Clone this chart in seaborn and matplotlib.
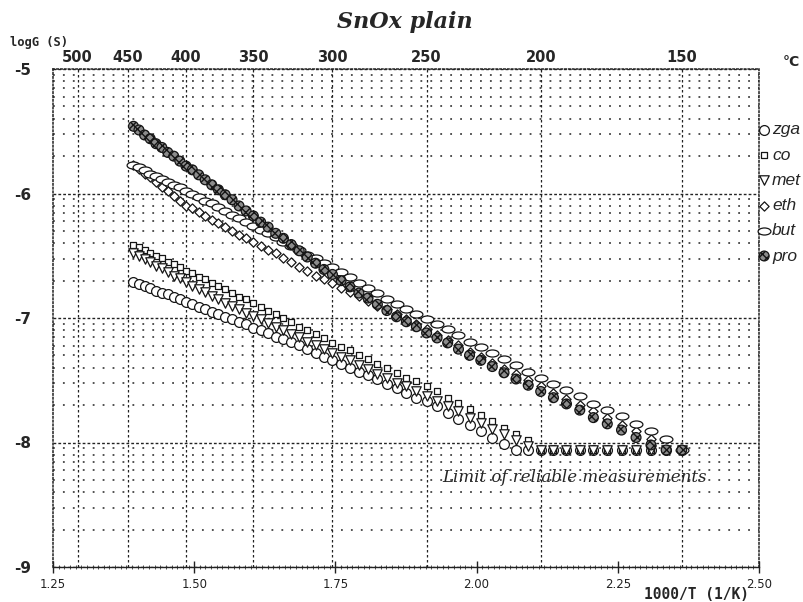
import numpy as np
import pandas as pd
import matplotlib
matplotlib.use("Agg")
import matplotlib.pyplot as plt
import seaborn as sns
from matplotlib.path import Path
from matplotlib.ticker import FixedLocator, MultipleLocator, FormatStrFormatter
from matplotlib.font_manager import FontProperties

# measurement temperatures in deg C (5 K steps)
temp_c = [445, 440, 435, 430, 425, 420, 415, 410, 405, 400,
          395, 390, 385, 380, 375, 370, 365, 360, 355, 350,
          345, 340, 335, 330, 325, 320, 315, 310, 305, 300,
          295, 290, 285, 280, 275, 270, 265, 260, 255, 250,
          245, 240, 235, 230, 225, 220, 215, 210, 205, 200,
          195, 190, 185, 180, 175, 170, 165, 160, 155, 150]

# logG (S)
zga = [-6.71, -6.73, -6.74, -6.76, -6.78, -6.80, -6.81, -6.83, -6.85, -6.87,
       -6.89, -6.91, -6.93, -6.95, -6.97, -6.99, -7.01, -7.03, -7.05, -7.08,
       -7.10, -7.12, -7.15, -7.17, -7.19, -7.22, -7.25, -7.28, -7.31, -7.34,
       -7.37, -7.40, -7.43, -7.46, -7.49, -7.53, -7.56, -7.60, -7.64, -7.67,
       -7.71, -7.76, -7.81, -7.86, -7.91, -7.96, -8.01, -8.06, -8.06, -8.06,
       -8.06, -8.06, -8.06, -8.06, -8.06, -8.06, -8.06, -8.06, -8.06, -8.06]
co = [-6.41, -6.43, -6.45, -6.48, -6.50, -6.52, -6.55, -6.57, -6.59, -6.62,
      -6.64, -6.67, -6.69, -6.72, -6.74, -6.77, -6.80, -6.83, -6.85, -6.88,
      -6.91, -6.94, -6.97, -7.00, -7.03, -7.07, -7.10, -7.13, -7.16, -7.20,
      -7.23, -7.26, -7.30, -7.33, -7.37, -7.40, -7.44, -7.48, -7.51, -7.55,
      -7.59, -7.64, -7.68, -7.73, -7.78, -7.83, -7.88, -7.93, -7.98, -8.06,
      -8.06, -8.06, -8.06, -8.06, -8.06, -8.06, -8.06, -8.06, -8.06, -8.06]
met = [-6.48, -6.50, -6.53, -6.55, -6.58, -6.60, -6.63, -6.66, -6.68, -6.71,
       -6.74, -6.77, -6.79, -6.82, -6.85, -6.88, -6.90, -6.93, -6.96, -6.98,
       -7.01, -7.04, -7.07, -7.10, -7.13, -7.15, -7.19, -7.22, -7.25, -7.28,
       -7.31, -7.34, -7.38, -7.41, -7.45, -7.48, -7.52, -7.55, -7.59, -7.63,
       -7.67, -7.71, -7.75, -7.80, -7.84, -7.89, -7.93, -7.98, -8.03, -8.06,
       -8.06, -8.06, -8.06, -8.06, -8.06, -8.06, -8.06, -8.06, -8.06, -8.06]
eth = [-5.77, -5.80, -5.84, -5.87, -5.91, -5.95, -5.98, -6.02, -6.06, -6.10,
       -6.12, -6.15, -6.18, -6.21, -6.24, -6.27, -6.30, -6.33, -6.36, -6.39,
       -6.42, -6.45, -6.48, -6.52, -6.55, -6.59, -6.62, -6.66, -6.69, -6.72,
       -6.76, -6.79, -6.82, -6.86, -6.90, -6.93, -6.97, -7.01, -7.05, -7.09,
       -7.14, -7.18, -7.22, -7.27, -7.31, -7.36, -7.41, -7.45, -7.50, -7.55,
       -7.60, -7.65, -7.70, -7.75, -7.80, -7.86, -7.91, -7.97, -8.06, -8.06]
but = [-5.77, -5.79, -5.81, -5.84, -5.86, -5.88, -5.91, -5.93, -5.95, -5.98,
       -6.00, -6.03, -6.06, -6.08, -6.11, -6.14, -6.17, -6.20, -6.23, -6.26,
       -6.29, -6.32, -6.35, -6.39, -6.42, -6.45, -6.49, -6.52, -6.56, -6.59,
       -6.63, -6.67, -6.72, -6.76, -6.80, -6.85, -6.89, -6.93, -6.97, -7.01,
       -7.05, -7.09, -7.14, -7.19, -7.23, -7.28, -7.33, -7.38, -7.43, -7.48,
       -7.53, -7.58, -7.63, -7.69, -7.74, -7.79, -7.85, -7.91, -7.97, -8.06]
pro = [-5.46, -5.49, -5.53, -5.56, -5.60, -5.63, -5.67, -5.70, -5.74, -5.78,
       -5.81, -5.85, -5.89, -5.93, -5.97, -6.01, -6.05, -6.10, -6.14, -6.18,
       -6.23, -6.27, -6.32, -6.36, -6.41, -6.46, -6.51, -6.56, -6.61, -6.65,
       -6.70, -6.75, -6.80, -6.84, -6.89, -6.94, -6.99, -7.03, -7.07, -7.12,
       -7.16, -7.20, -7.25, -7.30, -7.34, -7.39, -7.44, -7.49, -7.54, -7.59,
       -7.64, -7.69, -7.74, -7.80, -7.85, -7.90, -7.96, -8.02, -8.06, -8.06]

gas_names = ["zga", "co", "met", "eth", "but", "pro"]
top_temps = [500, 450, 400, 350, 300, 250, 200, 150]
x_ticks = [1.25, 1.50, 1.75, 2.00, 2.25, 2.50]
y_ticks = [-9, -8, -7, -6, -5]

sns.set_theme(style="white")
plt.rcParams["axes.unicode_minus"] = False
plt.rcParams["font.family"] = ["DejaVu Sans"]

inv_t = [1000.0 / (t + 273.15) for t in temp_c]
df = pd.DataFrame({
    "x": inv_t * len(gas_names),
    "logG": zga + co + met + eth + but + pro,
    "gas": [g for g in gas_names for _ in temp_c],
})

circ = Path.unit_circle()
oval = Path(circ.vertices * np.array([1.0, 0.55]), circ.codes)

styles = {
    "zga": dict(marker="o", s=50, color="white"),
    "co": dict(marker="s", s=22, color="white"),
    "met": dict(marker="v", s=46, color="white"),
    "eth": dict(marker="D", s=22, color="white"),
    "but": dict(marker=oval, s=85, color="white"),
    "pro": dict(marker="o", s=50, color="#8c8c8c"),
}

fig = plt.figure(figsize=(8.04, 6.02), dpi=100)
ax = fig.add_axes([53 / 804, 35 / 602, 706 / 804, 498 / 602])

for g in gas_names:
    sub = df[df["gas"] == g]
    sns.scatterplot(data=sub, x="x", y="logG", ax=ax, label=g,
                    edgecolor="#151515", linewidth=0.9, zorder=3, **styles[g])
    if g == "pro":
        ax.collections[-1].set_hatch("xxxx")

ax.set_xlim(1.25, 2.50)
ax.set_ylim(-9, -5)

# grid: temperature lines, decades and log minors
for t in top_temps:
    ax.axvline(1000.0 / (t + 273.15), color="#222222", lw=0.9, ls=(0, (2, 2)), zorder=1)
ax.yaxis.set_major_locator(FixedLocator(y_ticks))
minor_y = [d + np.log10(k) for d in [-9, -8, -7, -6] for k in range(2, 10)]
ax.yaxis.set_minor_locator(FixedLocator(minor_y))
ax.grid(True, which="major", axis="y", color="#222222", lw=1.0, ls=(0, (2, 1.5)), zorder=1)
ax.grid(True, which="minor", axis="y", color="#444444", lw=1.3, ls=(0, (1, 4.5)), zorder=1)
ax.grid(False, axis="x")

ax.xaxis.set_major_locator(FixedLocator(x_ticks))
ax.xaxis.set_major_formatter(FormatStrFormatter("%.2f"))
ax.xaxis.set_minor_locator(MultipleLocator(0.01))
ax.tick_params(axis="x", which="major", direction="inout", length=8, width=1.0,
               color="#222222", labelsize=8.5, labelcolor="#222222", pad=4, bottom=True)
ax.tick_params(axis="x", which="minor", direction="inout", length=3, width=0.6,
               color="#333333", bottom=True)
ax.tick_params(axis="y", which="both", length=0, pad=16, labelsize=11)
for lab in ax.get_yticklabels():
    lab.set_fontweight("bold")
ax.set_xlabel("")
ax.set_ylabel("")

for side in ["left", "top", "right"]:
    ax.spines[side].set_linestyle((0, (1, 1.5)))
    ax.spines[side].set_linewidth(1.1)
    ax.spines[side].set_color("#222222")
ax.spines["bottom"].set_linewidth(1.0)
ax.spines["bottom"].set_color("#222222")

sec = ax.secondary_xaxis("top", functions=(lambda x: 1000.0 / np.asarray(x) - 273.15,
                                           lambda t: 1000.0 / (np.asarray(t) + 273.15)))
sec.set_xticks(top_temps)
sec.tick_params(length=0, pad=3, labelsize=10.5)
for lab in sec.get_xticklabels():
    lab.set_fontweight("bold")
sec.spines["top"].set_visible(False)

leg = ax.legend(loc="upper left", bbox_to_anchor=(1.0, 0.893), frameon=False,
                borderaxespad=0, borderpad=0, handlelength=0.6, handletextpad=0.15,
                labelspacing=0.58,
                prop=FontProperties(family="Liberation Sans", style="italic", size=12.5))

fig.text(0.504, 0.963, "SnOx plain", ha="center", va="center",
         family="DejaVu Serif", style="italic", weight="bold", fontsize=16)
fig.text(0.012, 0.930, "logG (S)", ha="left", va="center",
         family="DejaVu Sans Mono", weight="bold", fontsize=8.7)
fig.text(0.974, 0.897, "°C", ha="left", va="center", weight="bold", fontsize=10)
fig.text(0.866, 0.013, "1000/T (1/K)", ha="center", va="center",
         family="DejaVu Sans Mono", weight="bold", fontsize=10.5)
ax.text(0.552, 0.179, "Limit of reliable measurements", transform=ax.transAxes,
        ha="left", va="center", family="DejaVu Serif", style="italic", fontsize=12)

fig.savefig("out.png", dpi=100)
